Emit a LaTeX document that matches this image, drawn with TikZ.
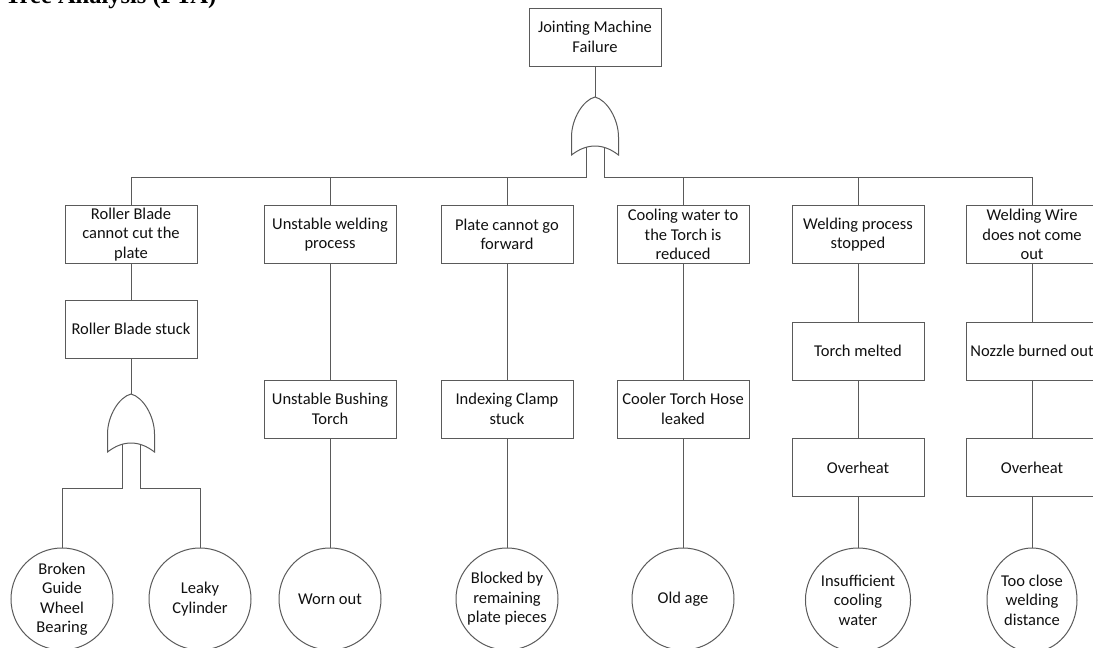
\documentclass[tikz,border=0pt]{standalone}
\usepackage{fontspec}
\setmainfont{Carlito}
\newfontfamily\titlefam{Liberation Serif}
\definecolor{linecol}{HTML}{5A5A5A}
\definecolor{txtcol}{HTML}{111111}
\newcommand{\evfont}{\fontsize{16.5}{19.5}\selectfont\color{txtcol}}
\tikzset{
  ev/.style={draw=linecol, line width=1pt, minimum width=132pt, minimum height=58pt,
    inner sep=0pt, align=center, font=\evfont, fill=white},
  basicev/.style={circle, draw=linecol, line width=1pt, minimum size=102pt,
    inner sep=0pt, align=center, font=\evfont, fill=white},
  basicev2/.style={ellipse, draw=linecol, line width=1pt, minimum width=90pt, minimum height=104pt,
    inner sep=0pt, align=center, font=\evfont, fill=white},
  conn/.style={draw=linecol, line width=1pt},
  orgate/.pic={
    \draw[draw=linecol, line width=1pt, fill=white]
      (0,0) .. controls (-12,3) and (-23.5,22) .. (-23.5,40) -- (-23.5,58)
      .. controls (-8,46) and (8,46) .. (23.5,58) -- (23.5,40)
      .. controls (23.5,22) and (12,3) .. (0,0) -- cycle;
    \coordinate (-top) at (0,0);
    \coordinate (-l) at (-9,50);
    \coordinate (-r) at (9,50);
  }
}
\usetikzlibrary{shapes.geometric}
\begin{document}
\begin{tikzpicture}[x=1pt, y=-1pt]
\useasboundingbox (0,0) rectangle (1093,648);
% title (cut at top)
\node[anchor=base west, inner sep=0pt, font=\titlefam\bfseries\fontsize{24.5}{28}\selectfont] (title) at (5,3) {Tree Analysis (FTA)};

% top event
\node[ev] (top) at (595,37) {Jointing Machine\\Failure};
\pic (g1) at (595,97) {orgate};
\coordinate (bus) at (0,177);

% first row
\node[ev] (a1) at (131,234.5) {Roller Blade\\cannot cut the\\plate};
\node[ev] (a2) at (330,234.5) {Unstable welding\\process};
\node[ev] (a3) at (507,234.5) {Plate cannot go\\forward};
\node[ev] (a4) at (683,234.5) {Cooling water to\\the Torch is\\reduced};
\node[ev] (a5) at (858,234.5) {Welding process\\stopped};
\node[ev] (a6) at (1032,234.5) {Welding Wire\\does not come\\out};

% second row
\node[ev] (b1) at (131,329) {Roller Blade stuck};
\node[ev] (b2) at (330,409) {Unstable Bushing\\Torch};
\node[ev] (b3) at (507,409) {Indexing Clamp\\stuck};
\node[ev] (b4) at (683,409) {Cooler Torch Hose\\leaked};
\node[ev] (b5) at (858,351) {Torch melted};
\node[ev] (b6) at (1032,351) {Nozzle burned out};
\node[ev] (c5) at (858,467.5) {Overheat};
\node[ev] (c6) at (1032,467.5) {Overheat};

% gate under Roller Blade stuck
\pic (g2) at (131,394) {orgate};
\coordinate (sub) at (0,488);

% basic events
\node[basicev] (d1a) at (62,599) {Broken\\Guide\\Wheel\\Bearing};
\node[basicev] (d1b) at (200,599) {Leaky\\Cylinder};
\node[basicev] (d2) at (330,599) {Worn out};
\node[basicev] (d3) at (507,599) {Blocked by\\remaining\\plate pieces};
\node[basicev] (d4) at (683,599) {Old age};
\node[basicev2] (d5) at (858,600) {Insufficient\\cooling\\water};
\node[basicev2] (d6) at (1032,600) {Too close\\welding\\distance};

% connectors
\draw[conn] (top) -- (g1-top);
\draw[conn] (g1-l) -- (g1-l |- bus) -| (a1.north);
\draw[conn] (g1-l) -- (g1-l |- bus) -| (a2.north);
\draw[conn] (g1-l) -- (g1-l |- bus) -| (a3.north);
\draw[conn] (g1-r) -- (g1-r |- bus) -| (a4.north);
\draw[conn] (g1-r) -- (g1-r |- bus) -| (a5.north);
\draw[conn] (g1-r) -- (g1-r |- bus) -| (a6.north);

\draw[conn] (a1) -- (b1);
\draw[conn] (b1) -- (g2-top);
\draw[conn] (g2-l) -- (g2-l |- sub) -| (d1a.north);
\draw[conn] (g2-r) -- (g2-r |- sub) -| (d1b.north);

\draw[conn] (a2) -- (b2);
\draw[conn] (b2) -- (d2);
\draw[conn] (a3) -- (b3);
\draw[conn] (b3) -- (d3);
\draw[conn] (a4) -- (b4);
\draw[conn] (b4) -- (d4);
\draw[conn] (a5) -- (b5);
\draw[conn] (b5) -- (c5);
\draw[conn] (c5) -- (d5);
\draw[conn] (a6) -- (b6);
\draw[conn] (b6) -- (c6);
\draw[conn] (c6) -- (d6);
\end{tikzpicture}
\end{document}
